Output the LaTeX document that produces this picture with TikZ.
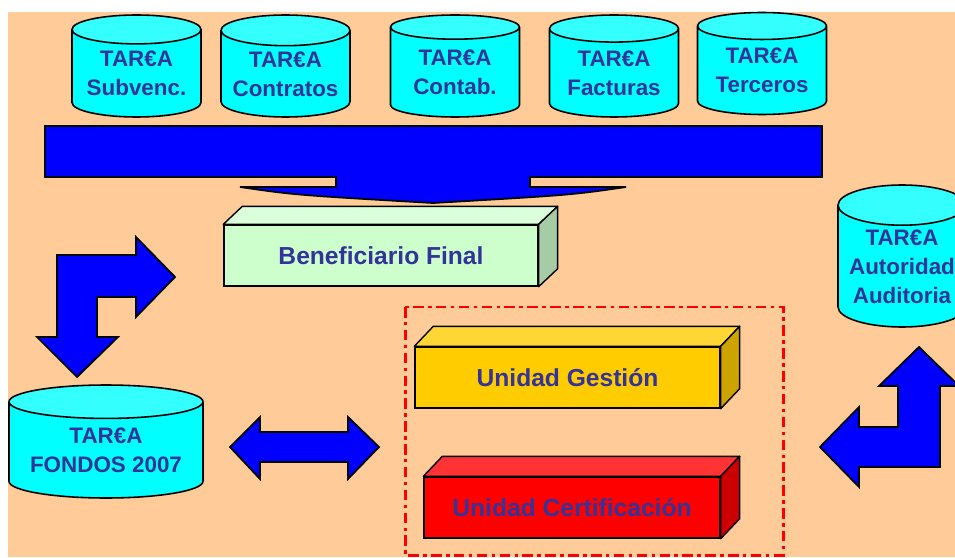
\documentclass[tikz,border=0pt]{standalone}
\usepackage{fontspec}
\setmainfont{Liberation Sans}
\usetikzlibrary{shapes.geometric}

\definecolor{peach}{HTML}{FFCC99}
\definecolor{cyanbody}{HTML}{00FFFF}
\definecolor{cyanend}{HTML}{33FFFF}
\definecolor{txtblue}{HTML}{333399}
\definecolor{arrowblue}{HTML}{0000FF}
\definecolor{beneffront}{HTML}{CCFFCC}
\definecolor{beneftop}{HTML}{DAFFDA}
\definecolor{benefside}{HTML}{A6CCA6}
\definecolor{gestfront}{HTML}{FFCC00}
\definecolor{gesttop}{HTML}{FFD633}
\definecolor{gestside}{HTML}{CCA300}
\definecolor{certfront}{HTML}{FF0000}
\definecolor{certtop}{HTML}{FF3333}
\definecolor{certside}{HTML}{CC0000}

\tikzset{
  tarea/.style={cylinder, shape border rotate=90, aspect=0.29, anchor=shape center,
    draw=black, line width=0.9pt, cylinder uses custom fill,
    cylinder body fill=cyanbody, cylinder end fill=cyanend,
    inner sep=0pt, align=center, text=txtblue,
    font=\fontsize{12.75}{16.5}\selectfont\bfseries,
    minimum width=2.58cm, minimum height=2.04cm},
  front/.style={draw=black, line width=0.8pt, inner sep=0pt, text=txtblue,
    font=\fontsize{14}{16}\selectfont\bfseries, minimum height=1.22cm},
  face/.style={draw=black, line width=0.8pt, line join=round},
  bigarrow/.style={fill=arrowblue, draw=black, line width=1pt}
}

\begin{document}
\begin{tikzpicture}[x=0.02cm, y=-0.02cm]
    \useasboundingbox (0,0) rectangle (955,557);
    \fill[peach] (8,12) rectangle (955,557);

    % grouping frame
    \draw[red, line width=1.7pt, dash pattern=on 6pt off 2.5pt on 2pt off 2.5pt]
        (405,307) rectangle (783,555);

    % block arrows
    \draw[bigarrow] (45,126) -- (822,126) -- (822,177) -- (530,177) -- (530,187)
        -- (626,187) .. controls (571,195) .. (433,203) .. controls (295,195) .. (240,187)
        -- (336,187) -- (336,177) -- (45,177) -- cycle;
    \draw[bigarrow] (175,277) -- (136,237) -- (136,255) -- (57,255) -- (57,337)
        -- (37,337) -- (77,377) -- (118,337) -- (97,337) -- (97,297) -- (136,297)
        -- (136,317) -- cycle;
    \draw[bigarrow] (230,447) -- (260,417) -- (260,432) -- (348,432) -- (348,417)
        -- (379,447) -- (348,479) -- (348,462) -- (260,462) -- (260,479) -- cycle;
    \draw[bigarrow] (919,347) -- (959,386) -- (940,386) -- (940,467) -- (859,467)
        -- (859,487) -- (820,447) -- (859,407) -- (859,427) -- (898,427)
        -- (898,386) -- (879,386) -- cycle;

    % databases
    \node[tarea] at (136.5, 66)  (subv)  {TAR€A\\Subvenc.};
    \node[tarea] at (285.5, 66)  (contr) {TAR€A\\Contratos};
    \node[tarea] at (455, 66)    (conta) {TAR€A\\Contab.};
    \node[tarea] at (614, 66)    (fact)  {TAR€A\\Facturas};
    \node[tarea] at (762, 63.5)  (terc)  {TAR€A\\Terceros};
    \node[tarea, minimum width=3.88cm, minimum height=2.26cm, aspect=0.22]
        at (106, 441.5) (fondos) {TAR€A\\FONDOS 2007};
    \node[tarea, minimum width=2.56cm, minimum height=2.84cm, aspect=0.38]
        at (902, 256) (audit) {TAR€A\\Autoridad\\Auditoria};

    % boxes
    \node[front, fill=beneffront, minimum width=6.28cm] at (381, 255.5) (benef) {Beneficiario Final};
    \node[front, fill=gestfront, minimum width=6.1cm]   at (567.5, 377.5) (gest) {Unidad Gestión};
    \node[front, fill=certfront, minimum width=5.92cm]  at (572, 507.5) (cert) {Unidad Certificación};

    \draw[face, fill=beneftop] (benef.north west) -- ++(19,-18) -- ([shift={(19,-18)}]benef.north east) -- (benef.north east) -- cycle;
    \draw[face, fill=benefside] (benef.north east) -- ++(19,-18) -- ([shift={(19,-18)}]benef.south east) -- (benef.south east) -- cycle;
    \draw[face, fill=gesttop] (gest.north west) -- ++(19,-20) -- ([shift={(19,-20)}]gest.north east) -- (gest.north east) -- cycle;
    \draw[face, fill=gestside] (gest.north east) -- ++(19,-20) -- ([shift={(19,-20)}]gest.south east) -- (gest.south east) -- cycle;
    \draw[face, fill=certtop] (cert.north west) -- ++(19,-20) -- ([shift={(19,-20)}]cert.north east) -- (cert.north east) -- cycle;
    \draw[face, fill=certside] (cert.north east) -- ++(19,-20) -- ([shift={(19,-20)}]cert.south east) -- (cert.south east) -- cycle;
\end{tikzpicture}
\end{document}
